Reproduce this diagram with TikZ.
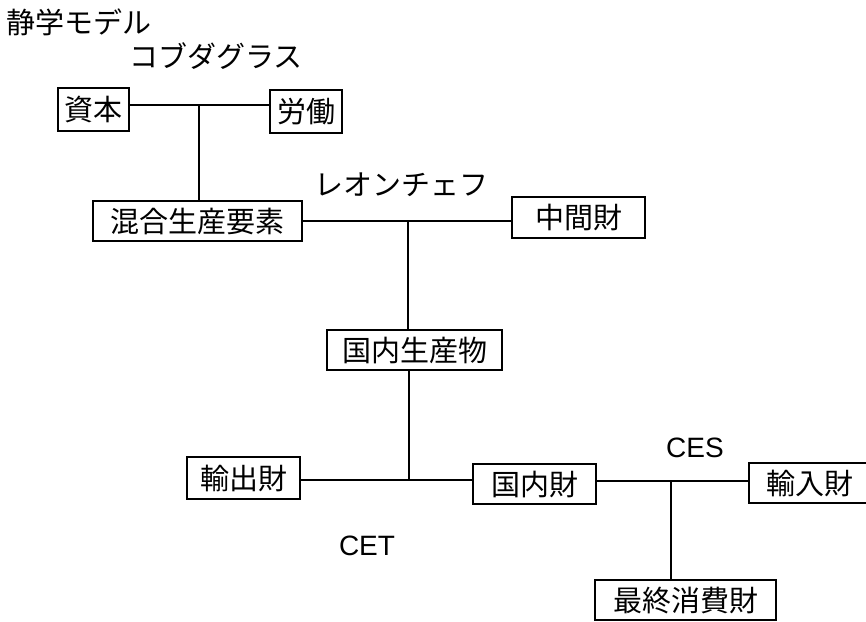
\documentclass[tikz,border=0pt]{standalone}
\usepackage{fontspec}
\setmainfont{Liberation Sans}
\newfontfamily\cjk{Noto Sans CJK JP}
\begin{document}
\begin{tikzpicture}[x=1pt,y=-1pt,
  box/.style={draw,line width=1.5pt,inner sep=0pt,font=\fontsize{29}{29}\cjk,text height=25.5pt,text depth=3.5pt},
  lbl/.style={inner sep=0pt,font=\fontsize{29}{29}\cjk,text height=25.5pt,text depth=3.5pt},
  latin/.style={inner sep=0pt,font=\fontsize{28}{28}\selectfont,text height=20pt,text depth=0pt},
  conn/.style={line width=1.5pt}]
\useasboundingbox (0,0) rectangle (866,621);
\clip (0,0) rectangle (866,621);
\node[lbl] (title) at (78.5,22) {静学モデル};
\node[lbl] (cobb) at (216,56) {コブダグラス};
\node[lbl] (leon) at (401,184) {レオンチェフ};
\node[latin] (ces) at (695,447) {CES};
\node[latin] (cet) at (367,545) {CET};
\node[box,minimum width=71pt,minimum height=43pt] (shihon) at (93.5,109.5) {資本};
\node[box,minimum width=72pt,minimum height=43pt] (roudou) at (306,111.5) {労働};
\node[box,minimum width=209pt,minimum height=40pt] (kongo) at (197.5,221) {混合生産要素};
\node[box,minimum width=133pt,minimum height=41pt] (chukan) at (578.5,217.5) {中間財};
\node[box,minimum width=175pt,minimum height=40pt] (kseisan) at (414.5,350) {国内生産物};
\node[box,minimum width=113pt,minimum height=42pt] (yushutsu) at (243.5,478) {輸出財};
\node[box,minimum width=123pt,minimum height=40pt] (kokunai) at (534.5,484) {国内財};
\node[box,minimum width=130pt,minimum height=40pt] (yunyu) at (814,483) {\hspace*{-8pt}輸入財};
\node[box,minimum width=181pt,minimum height=40pt] (saishu) at (685.5,600) {最終消費財};
\coordinate (j1) at (199,105);
\coordinate (j2) at (408,221);
\coordinate (j3) at (409,480);
\coordinate (j4) at (671,481);
\draw[conn] (j1 -| shihon.east) -- (j1 -| roudou.west);
\draw[conn] (j1) -- (j1 |- kongo.north);
\draw[conn] (j2 -| kongo.east) -- (j2 -| chukan.west);
\draw[conn] (j2) -- (j2 |- kseisan.north);
\draw[conn] (j3 |- kseisan.south) -- (j3);
\draw[conn] (j3 -| yushutsu.east) -- (j3 -| kokunai.west);
\draw[conn] (j4 -| kokunai.east) -- (j4 -| yunyu.west);
\draw[conn] (j4) -- (j4 |- saishu.north);
\end{tikzpicture}
\end{document}
